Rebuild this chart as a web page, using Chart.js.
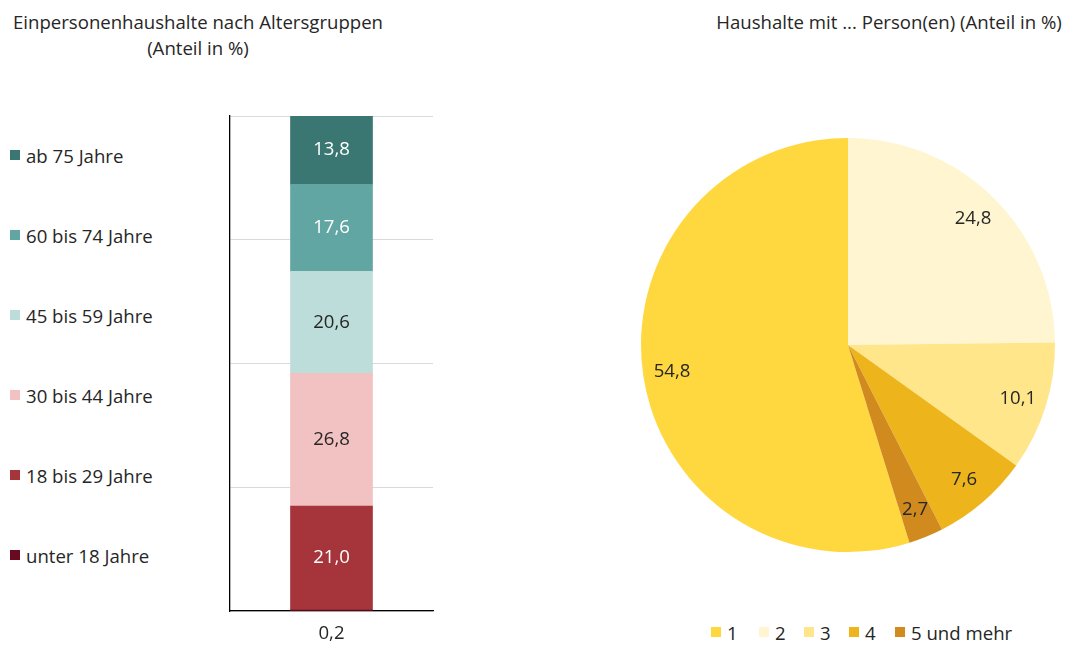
<!DOCTYPE html>
<html><head><meta charset="utf-8">
<script src="https://cdn.jsdelivr.net/npm/chart.js@4/dist/chart.umd.min.js"></script>
<style>
html,body{margin:0;padding:0;background:#fff;}
body{width:1070px;height:646px;position:relative;overflow:hidden;font-family:"Open Sans","Liberation Sans",sans-serif;color:#262626;}
.t{position:absolute;font-size:18.6px;text-align:center;white-space:nowrap;line-height:26px;}
#c1{position:absolute;left:200px;top:100px;}
#c2{position:absolute;left:620px;top:118px;}
.lg{position:absolute;font-size:18.6px;white-space:nowrap;display:flex;align-items:center;}
.lg i{display:inline-block;width:10px;height:10px;margin-right:6px;}
</style></head>
<body>
<div class="t" style="left:0;width:396px;top:9px;">Einpersonenhaushalte nach Altersgruppen<br>(Anteil in %)</div>
<div class="t" style="left:700px;width:378px;top:9px;">Haushalte mit ... Person(en) (Anteil in %)</div>
<canvas id="c1" width="250" height="546"></canvas>
<canvas id="c2" width="456" height="454"></canvas>
<div id="leg1"></div>
<div id="leg2"></div>
<script>
// ---- data ----
const ageGroups = ["unter 18 Jahre","18 bis 29 Jahre","30 bis 44 Jahre","45 bis 59 Jahre","60 bis 74 Jahre","ab 75 Jahre"];
const ageShares = [0.2, 21.0, 26.8, 20.6, 17.6, 13.8];
const ageColors = ["#6A0A20","#A5343B","#F2C1C1","#BCDDDA","#62A6A4","#3B7772"];
const ageLabelColors = ["#262626","#ffffff","#262626","#262626","#ffffff","#ffffff"];
const yTicks = [0, 25, 50, 75, 100];

const hhSizes = ["1","2","3","4","5 und mehr"];
const hhShares = [54.8, 24.8, 10.1, 7.6, 2.7];
const hhColors = ["#FFD840","#FFF5D0","#FFE68A","#EDB51B","#D08A1E"];

const FONT = '"Open Sans", "Liberation Sans", sans-serif';
const FS = 18.6;
const fmt = v => v.toFixed(1).replace('.', ',');

// ---- bar chart ----
const barLabels = {
  id:'barLabels',
  afterDatasetsDraw(chart){
    const ctx = chart.ctx; ctx.save();
    ctx.font = FS + 'px ' + FONT; ctx.textAlign='center'; ctx.textBaseline='middle';
    chart.data.datasets.forEach((ds,i)=>{
      const el = chart.getDatasetMeta(i).data[0];
      const v = ds.data[0];
      if (v < 3) {
        ctx.fillStyle = '#262626';
        ctx.fillText(fmt(v), el.x, chart.chartArea.bottom + 23);
      } else {
        ctx.fillStyle = ageLabelColors[i];
        ctx.fillText(fmt(v), el.x, (el.y + el.base)/2);
      }
    });
    ctx.restore();
  }
};
new Chart(document.getElementById('c1'), {
  type:'bar',
  data:{
    labels:[''],
    datasets: ageGroups.map((g,i)=>({label:g, data:[ageShares[i]], backgroundColor:ageColors[i], barThickness:82, borderWidth:0}))
  },
  options:{
    responsive:false, animation:false,
    layout:{padding:{left:30,right:17,top:16,bottom:27}},
    plugins:{legend:{display:false},tooltip:{enabled:false}},
    scales:{
      x:{stacked:true, grid:{display:false}, ticks:{display:false}, border:{color:'#000',width:1.3}},
      y:{stacked:true, min:0, max:100, afterBuildTicks:a=>{a.ticks=yTicks.map(v=>({value:v}));},
         ticks:{display:false}, grid:{color:'#D9D9D9', drawTicks:false}, border:{color:'#000',width:1.3}}
    }
  },
  plugins:[barLabels]
});

// ---- pie chart ----
const pieLabels = {
  id:'pieLabels',
  afterDatasetsDraw(chart){
    const ctx = chart.ctx; ctx.save();
    ctx.font = FS + 'px ' + FONT; ctx.textAlign='center'; ctx.textBaseline='middle'; ctx.fillStyle='#262626';
    chart.getDatasetMeta(0).data.forEach((arc,i)=>{
      const a = (arc.startAngle + arc.endAngle)/2;
      const r = arc.outerRadius * 0.86;
      ctx.fillText(fmt(hhShares[i]), arc.x + Math.cos(a)*r, arc.y + Math.sin(a)*r);
    });
    ctx.restore();
  }
};
const total = hhShares.reduce((a,b)=>a+b,0);
new Chart(document.getElementById('c2'), {
  type:'pie',
  data:{labels:hhSizes, datasets:[{data:hhShares, backgroundColor:hhColors, borderWidth:0}]},
  options:{
    responsive:false, animation:false,
    rotation: -hhShares[0]/total*360,
    layout:{padding:{left:21,right:21,top:20,bottom:20}},
    plugins:{legend:{display:false},tooltip:{enabled:false}}
  },
  plugins:[pieLabels]
});

// ---- legends ----
const leg1 = document.getElementById('leg1');
ageGroups.forEach((g,i)=>{
  const d = document.createElement('div'); d.className='lg';
  d.style.left='10px'; d.style.top=(555 - i*80 - 12)+'px'; d.style.height='24px';
  d.innerHTML = '<i style="background:'+ageColors[i]+'"></i>'+g;
  leg1.appendChild(d);
});
const leg2 = document.getElementById('leg2');
const x2 = [711, 759, 804, 849, 895];
hhSizes.forEach((s,i)=>{
  const d = document.createElement('div'); d.className='lg';
  d.style.left=x2[i]+'px'; d.style.top='620px'; d.style.height='24px';
  d.innerHTML = '<i style="background:'+hhColors[i]+'"></i>'+s;
  leg2.appendChild(d);
});
</script>
</body></html>
